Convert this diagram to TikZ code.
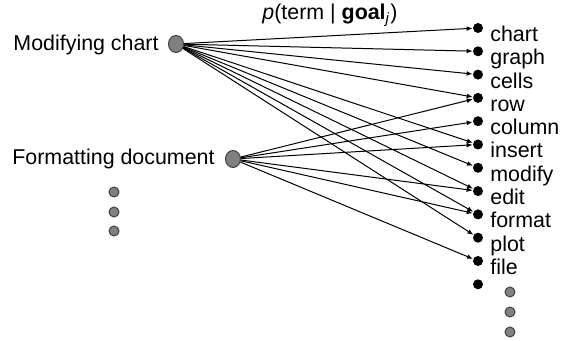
\documentclass[tikz,border=0pt]{standalone}
\usepackage{fontspec}
\setmainfont{Liberation Sans}
\usetikzlibrary{shapes.geometric,arrows.meta}
\begin{document}
\begin{tikzpicture}[x=0.5pt,y=-0.5pt,
  goal/.style={ellipse,draw=black!75,fill=black!50,line width=0.5pt,minimum width=7.5pt,minimum height=8.5pt,inner sep=0pt},
  smalldot/.style={circle,draw=black!75,fill=black!50,line width=0.5pt,minimum size=5pt,inner sep=0pt},
  termdot/.style={circle,fill=black,minimum size=5pt,inner sep=0pt},
  lbl/.style={inner sep=0pt,font=\fontsize{10.7}{12}\selectfont},
  arr/.style={-{Latex[length=3pt,width=2.4pt]},line width=0.5pt}]
\useasboundingbox (0,0) rectangle (569,341);
\node[goal] (g1) at (176,44) {};
\node[lbl,anchor=base east] (g1l) at (159,51) {Modifying chart};
\node[goal] (g2) at (233,159) {};
\node[lbl,anchor=base east] (g2l) at (215,165) {Formatting document};
\node[smalldot] (s1) at (114,192) {};
\node[smalldot] (s2) at (114,212) {};
\node[smalldot] (s3) at (114,231) {};
\node[lbl,anchor=base west] (title) at (262,20) {\textit{p}(term | \textbf{goal}\textsubscript{\textit{j}})};
\foreach \n [count=\k from 0] in {chart,graph,cells,row,column,insert,modify,edit,format,plot,file}{
  \node[termdot] (t-\n) at (478,28+23.3*\k) {};
  \node[lbl,anchor=base west] (l-\n) at (490,41.5+23.3*\k) {\n};
}
\node[termdot] (t-extra) at (478,284.3) {};
\node[smalldot] (r1) at (510,292) {};
\node[smalldot] (r2) at (510,312) {};
\node[smalldot] (r3) at (510,332) {};
\foreach \n in {chart,graph,cells,row,insert,modify,edit,format,plot}
  \draw[arr] (g1) -- (t-\n);
\foreach \n in {row,column,insert,edit,format,file}
  \draw[arr] (g2) -- (t-\n);
\end{tikzpicture}
\end{document}
